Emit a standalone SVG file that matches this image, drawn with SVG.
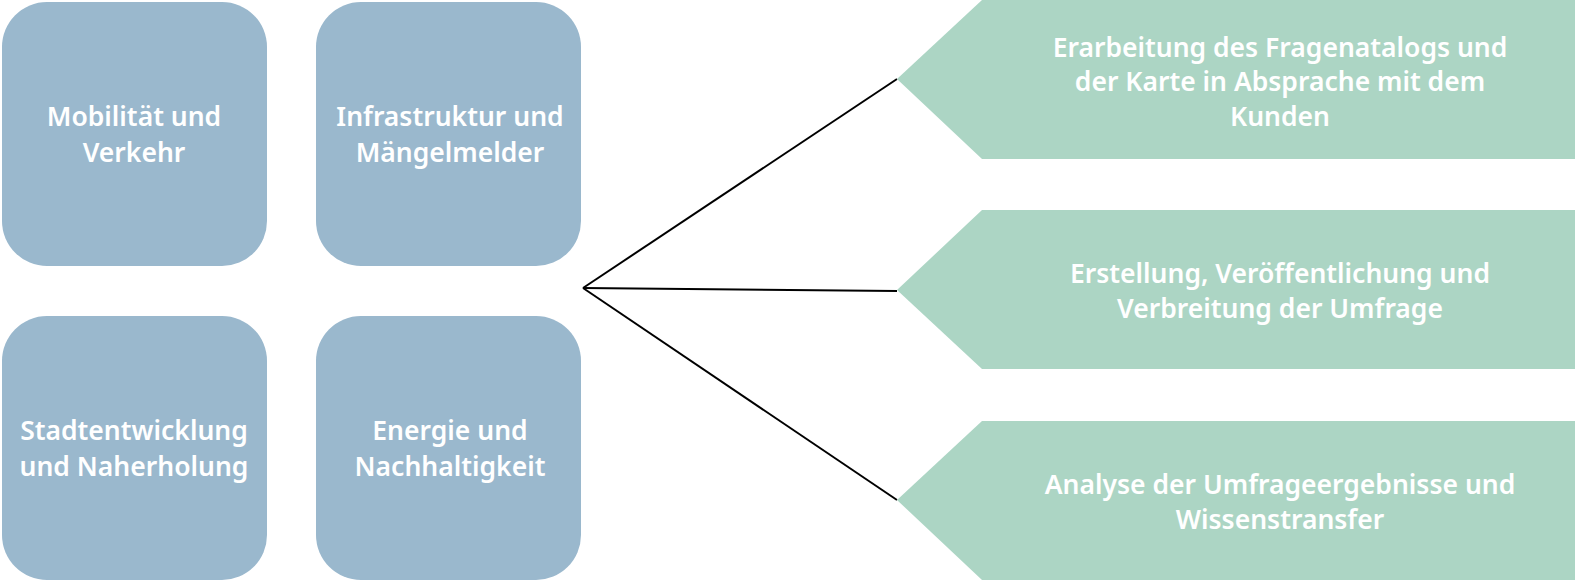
<svg xmlns="http://www.w3.org/2000/svg" width="1575" height="584" viewBox="0 0 1575 584">
<style>
.box{fill:#9ab8cd}
.arr{fill:#acd5c4}
.t{font-family:"Noto Sans","Open Sans","DejaVu Sans",sans-serif;font-weight:600;font-size:26.5px;fill:#ffffff;text-anchor:middle;dominant-baseline:central}
.c{stroke:#000;stroke-width:2;fill:none}
</style>
<rect width="1575" height="584" fill="#fff"/>
<g id="connectors">
<path class="c" d="M583 288 L897 79"/>
<path class="c" d="M583 288 L897 291"/>
<path class="c" d="M583 288 L897 500"/>
</g>
<g id="n1"><rect class="box" x="2" y="2" width="265" height="264" rx="45"/><text class="t" x="134" y="116">Mobilität und</text><text class="t" x="134" y="152">Verkehr</text></g>
<g id="n2"><rect class="box" x="316" y="2" width="265" height="264" rx="45"/><text class="t" x="450" y="116">Infrastruktur und</text><text class="t" x="450" y="152">Mängelmelder</text></g>
<g id="n3"><rect class="box" x="2" y="316" width="265" height="264" rx="45"/><text class="t" x="134" y="430">Stadtentwicklung</text><text class="t" x="134" y="466">und Naherholung</text></g>
<g id="n4"><rect class="box" x="316" y="316" width="265" height="264" rx="45"/><text class="t" x="450" y="430">Energie und</text><text class="t" x="450" y="466">Nachhaltigkeit</text></g>
<g id="a1"><path class="arr" d="M982 0 H1575 V159 H982 L897 79 Z"/><text class="t" x="1280" y="47">Erarbeitung des Fragenatalogs und</text><text class="t" x="1280" y="81">der Karte in Absprache mit dem</text><text class="t" x="1280" y="116">Kunden</text></g>
<g id="a2"><path class="arr" d="M982 210 H1575 V369 H982 L897 290 Z"/><text class="t" x="1280" y="273">Erstellung, Veröffentlichung und</text><text class="t" x="1280" y="308">Verbreitung der Umfrage</text></g>
<g id="a3"><path class="arr" d="M982 421 H1575 V580 H982 L897 500 Z"/><text class="t" x="1280" y="484">Analyse der Umfrageergebnisse und</text><text class="t" x="1280" y="519">Wissenstransfer</text></g>
</svg>
